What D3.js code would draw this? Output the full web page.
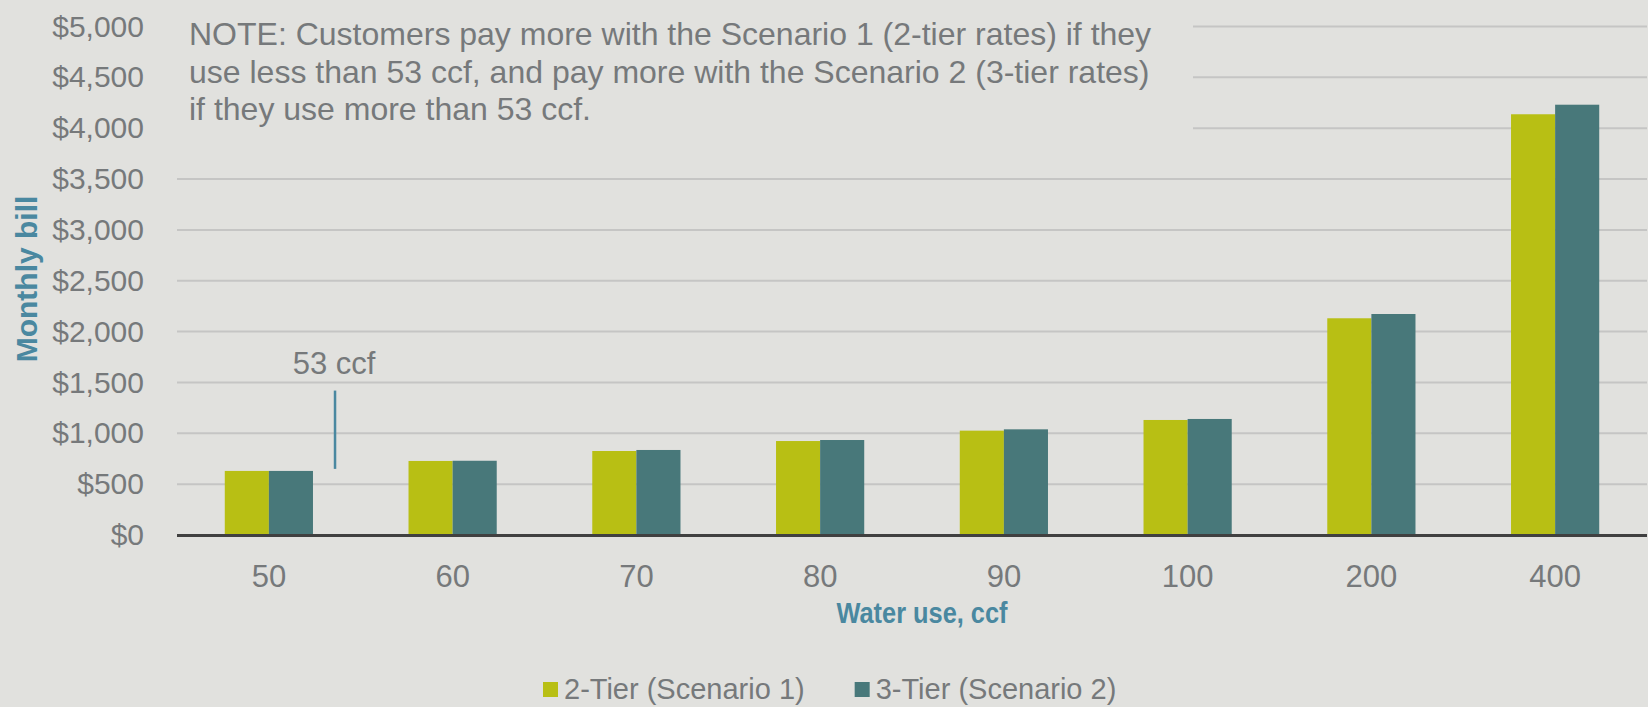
<!DOCTYPE html>
<html>
<head>
<meta charset="utf-8">
<script src="https://cdn.jsdelivr.net/npm/d3@7"></script>
<style>
html, body { margin: 0; padding: 0; background: #e1e1de; }
text { font-family: "Liberation Sans", Arial, sans-serif; }
</style>
</head>
<body>
<script>
// water use categories (ccf) and monthly bill for each rate scenario
var categories = ['50', '60', '70', '80', '90', '100', '200', '400'];
var tier2 = [630, 728, 826, 924, 1026, 1131, 2131, 4137];
var tier3 = [630, 730, 836, 934, 1039, 1141, 2173, 4231];
var seriesNames = ['2-Tier (Scenario 1)', '3-Tier (Scenario 2)'];
var yTicks = [0, 500, 1000, 1500, 2000, 2500, 3000, 3500, 4000, 4500, 5000];

// break-even marker: where it sits on the 50..60 stretch, and its span in $
var markerAt = 53.6;
var markerSpan = [650, 1420];
var markerLabel = '53 ccf';

var noteLines = [
  'NOTE: Customers pay more with the Scenario 1 (2-tier rates) if they',
  'use less than 53 ccf, and pay more with the Scenario 2 (3-tier rates)',
  'if they use more than 53 ccf.'
];

var WIDTH = 1648;
var HEIGHT = 707;
var GREEN = '#b8bf14';
var TEAL = '#48787a';
var GREY = '#76797b';
var BLUE = '#4a88a0';

var svg = d3.select('body')
.append('svg')
.attr('width', WIDTH)
.attr('height', HEIGHT);

svg.append('rect')
.attr('width', WIDTH)
.attr('height', HEIGHT)
.attr('fill', '#e1e1de');

// plot area (window.top is read-only, so no "top" here)
var plotL = 177, plotR = 1647, plotT = 26.5, plotB = 535;

var x = d3.scaleBand()
.domain(categories)
.range([plotL, plotR])
.paddingInner(0.52)
.paddingOuter(0.26);

var xSub = d3.scaleBand()
.domain([0, 1])
.range([0, x.bandwidth()]);

var y = d3.scaleLinear()
.domain([0, 5000])
.range([plotB, plotT]);

// gridlines
svg.append('g')
.selectAll('line')
.data(yTicks.slice(1))
.enter()
.append('line')
.attr('x1', plotL)
.attr('x2', plotR)
.attr('y1', function(d){return y(d);})
.attr('y2', function(d){return y(d);})
.attr('stroke', '#c5c5c4')
.attr('stroke-width', 2);

// the note box hides the top gridlines
svg.append('rect')
.attr('x', plotL)
.attr('y', 0)
.attr('width', 1193 - plotL)
.attr('height', 150)
.attr('fill', '#e1e1de');

svg.append('g')
.selectAll('text')
.data(noteLines)
.enter()
.append('text')
.attr('x', 189)
.attr('y', function(d, i){return 45 + i * 37.5;})
.attr('font-size', 32)
.attr('fill', GREY)
.text(function(d){return d;});

// y tick labels
var yAxis = d3.axisLeft(y)
.tickValues(yTicks)
.tickSize(0)
.tickPadding(0)
.tickFormat(function(d){return '$' + d3.format(',')(d);});

var yg = svg.append('g')
.attr('transform', 'translate(144,0)')
.call(yAxis);
yg.select('.domain').remove();
yg.selectAll('text')
.attr('font-size', 30)
.attr('font-family', '"Liberation Sans", Arial, sans-serif')
.attr('fill', GREY);

// bars
var groups = svg.append('g')
.selectAll('g')
.data(categories)
.enter()
.append('g')
.attr('transform', function(d){return 'translate(' + x(d) + ',0)';});

groups.selectAll('rect')
.data(function(d, i){return [tier2[i], tier3[i]];})
.enter()
.append('rect')
.attr('x', function(d, j){return xSub(j);})
.attr('width', xSub.bandwidth())
.attr('y', function(d){return y(d);})
.attr('height', function(d){return plotB - y(d);})
.attr('fill', function(d, j){return j === 0 ? GREEN : TEAL;});

// x axis
var xAxis = d3.axisBottom(x)
.tickSize(0)
.tickPadding(0);

var xg = svg.append('g')
.attr('transform', 'translate(0,' + plotB + ')')
.call(xAxis);
xg.select('.domain').remove();
xg.selectAll('text')
.attr('dy', null)
.attr('y', 52)
.attr('font-size', 31)
.attr('font-family', '"Liberation Sans", Arial, sans-serif')
.attr('fill', GREY);

svg.append('line')
.attr('x1', plotL)
.attr('x2', plotR)
.attr('y1', plotB + 0.5)
.attr('y2', plotB + 0.5)
.attr('stroke', '#404040')
.attr('stroke-width', 3);

// 53 ccf marker
var c0 = x(categories[0]) + x.bandwidth() / 2;
var c1 = x(categories[1]) + x.bandwidth() / 2;
var mx = d3.scaleLinear().domain([+categories[0], +categories[1]]).range([c0, c1]);

svg.append('line')
.attr('x1', mx(markerAt))
.attr('x2', mx(markerAt))
.attr('y1', y(markerSpan[0]))
.attr('y2', y(markerSpan[1]))
.attr('stroke', BLUE)
.attr('stroke-width', 2.5);

svg.append('text')
.attr('x', mx(markerAt) - 1)
.attr('y', 374)
.attr('text-anchor', 'middle')
.attr('font-size', 31)
.attr('fill', GREY)
.text(markerLabel);

// axis titles
svg.append('text')
.attr('transform', 'translate(37,279) rotate(-90)')
.attr('text-anchor', 'middle')
.attr('font-size', 30)
.attr('font-weight', 'bold')
.attr('fill', BLUE)
.text('Monthly bill');

svg.append('text')
.attr('x', 922)
.attr('y', 623)
.attr('text-anchor', 'middle')
.attr('font-size', 30)
.attr('font-weight', 'bold')
.attr('fill', BLUE)
.attr('textLength', 171)
.attr('lengthAdjust', 'spacingAndGlyphs')
.text('Water use, ccf');

// legend
var lx = 543;
seriesNames.forEach(function(name, i){
  svg.append('rect')
  .attr('x', lx)
  .attr('y', 682)
  .attr('width', 15)
  .attr('height', 15)
  .attr('fill', i === 0 ? GREEN : TEAL);
  var t = svg.append('text')
  .attr('x', lx + 21)
  .attr('y', 699)
  .attr('font-size', 29)
  .attr('fill', GREY)
  .text(name);
  lx = lx + 21 + t.node().getComputedTextLength() + 50;
});
</script>
</body>
</html>
